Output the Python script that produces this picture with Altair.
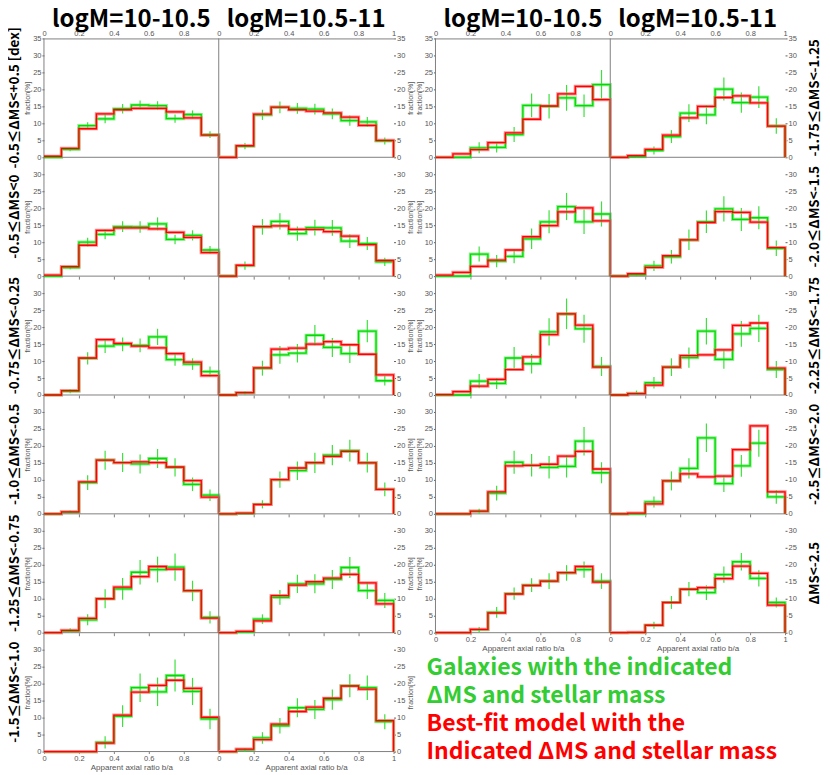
import altair as alt
import pandas as pd

# ---------------- data ----------------
bin_edges = [0.0, 0.1, 0.2, 0.3, 0.4, 0.5, 0.6, 0.7, 0.8, 0.9]
bin_centers = [0.05, 0.15, 0.25, 0.35, 0.45, 0.55, 0.65, 0.75, 0.85, 0.95]

col_titles = ["logM=10-10.5", "logM=10.5-11"]
left_row_labels = ["-0.5≤ΔMS<+0.5 [dex]", "-0.5≤ΔMS<0", "-0.75≤ΔMS<-0.25",
                   "-1.0≤ΔMS<-0.5", "-1.25≤ΔMS<-0.75", "-1.5≤ΔMS<-1.0"]
right_row_labels = ["-1.75≤ΔMS<-1.25", "-2.0≤ΔMS<-1.5", "-2.25≤ΔMS<-1.75",
                    "-2.5≤ΔMS<-2.0", "ΔMS<-2.5"]

# left block, logM=10-10.5
left_a_obs = [
    [0, 2.3, 9.3, 11.3, 14.3, 15.4, 15.2, 11.4, 12.6, 6.7],
    [0, 2.5, 10.0, 12.3, 14.6, 14.5, 15.4, 10.8, 12.0, 7.7],
    [0, 1.1, 10.8, 14.4, 14.9, 14.6, 17.1, 10.4, 9.1, 6.9],
    [0, 0.5, 9.2, 15.8, 15.1, 14.7, 16.3, 13.7, 8.7, 5.5],
    [0, 0.5, 3.8, 10.0, 12.9, 17.8, 18.6, 19.3, 12.3, 4.5],
    [0, 0, 0, 2.7, 10.4, 18.8, 17.6, 22.4, 17.7, 9.6],
]
left_a_err = [
    [0, 0.5, 1.0, 1.3, 1.4, 1.3, 1.3, 1.2, 1.2, 1.0],
    [0, 0.5, 1.3, 1.4, 1.6, 1.7, 1.9, 1.4, 1.5, 1.2],
    [0, 0.6, 1.8, 2.0, 2.0, 2.0, 2.4, 1.8, 1.7, 1.5],
    [0, 0.5, 2.2, 2.8, 2.8, 2.8, 2.8, 2.7, 2.0, 1.7],
    [0, 0.8, 1.6, 2.8, 3.2, 3.6, 3.8, 4.0, 3.0, 1.8],
    [0, 0, 0, 1.8, 3.2, 4.2, 4.2, 4.7, 4.0, 3.0],
]
left_a_fit = [
    [0.3, 2.6, 8.4, 12.8, 14.0, 14.4, 14.4, 13.4, 11.6, 6.5],
    [0.3, 2.8, 9.1, 13.5, 14.2, 14.2, 13.9, 12.9, 11.4, 6.9],
    [0, 1.3, 10.9, 16.3, 15.2, 14.4, 13.9, 12.2, 9.7, 5.7],
    [0, 0.6, 9.4, 15.8, 15.1, 15.3, 15.1, 13.8, 9.8, 4.9],
    [0, 0.7, 4.2, 10.0, 13.4, 16.5, 19.5, 18.7, 12.4, 4.3],
    [0, 0, 0, 2.5, 10.7, 17.5, 19.5, 21.0, 18.6, 10.1],
]
# left block, logM=10.5-11
left_b_obs = [
    [0, 3.3, 12.5, 14.7, 14.4, 14.2, 12.8, 10.8, 10.4, 4.8],
    [0, 3.1, 14.5, 16.1, 12.5, 14.3, 14.2, 10.3, 9.6, 4.2],
    [0, 0.6, 7.9, 11.8, 12.3, 17.6, 14.0, 12.2, 18.8, 4.2],
    [0, 0.1, 2.8, 10.1, 12.7, 15.0, 17.3, 18.6, 15.1, 7.2],
    [0, 0.2, 4.0, 10.4, 14.4, 14.4, 15.7, 19.2, 12.4, 9.5],
    [0, 0.5, 4.0, 7.6, 12.9, 12.4, 15.3, 19.4, 18.8, 8.8],
]
left_b_err = [
    [0, 0.9, 1.5, 1.7, 1.6, 1.6, 1.6, 1.5, 1.5, 1.0],
    [0, 1.2, 2.3, 2.4, 2.1, 2.3, 2.3, 2.0, 1.9, 1.2],
    [0, 0.5, 2.2, 2.6, 2.7, 3.0, 2.8, 2.8, 3.3, 1.4],
    [0, 0.2, 1.2, 2.4, 2.7, 3.0, 3.0, 3.2, 2.9, 2.0],
    [0, 0.3, 1.4, 2.2, 2.7, 2.8, 2.8, 3.1, 2.5, 2.2],
    [0, 0.5, 1.7, 2.3, 2.8, 2.8, 3.0, 3.4, 3.6, 2.2],
]
left_b_fit = [
    [0, 3.4, 12.7, 14.8, 14.0, 13.6, 13.1, 11.8, 9.4, 5.0],
    [0, 3.2, 14.6, 14.8, 13.8, 13.8, 13.1, 11.8, 9.3, 4.6],
    [0, 0.7, 8.0, 13.5, 13.8, 15.0, 15.7, 14.8, 12.0, 5.9],
    [0, 0.2, 2.75, 10.1, 13.5, 15.1, 16.9, 18.4, 15.0, 7.2],
    [0, 0.4, 3.5, 10.9, 14.0, 15.0, 16.1, 17.2, 14.7, 8.5],
    [0, 0.7, 3.5, 8.1, 11.8, 13.1, 15.7, 19.3, 18.4, 9.1],
]
# right block, logM=10-10.5
right_a_obs = [
    [0, 0, 2.8, 2.9, 6.7, 15.3, 15.0, 17.5, 15.2, 21.4],
    [0, 0, 6.5, 4.4, 5.8, 11.0, 16.0, 20.5, 16.0, 18.3],
    [0, 0, 4.1, 3.4, 10.9, 9.2, 18.6, 23.9, 19.5, 8.4],
    [0, 0, 0.7, 6.1, 15.2, 14.3, 13.7, 14.0, 21.4, 12.1],
    [0, 0, 0.9, 6.0, 11.5, 14.0, 15.2, 17.6, 18.6, 15.2],
]
right_a_err = [
    [0, 0, 1.6, 1.5, 2.2, 3.5, 3.6, 3.8, 3.3, 4.3],
    [0, 0, 2.2, 1.8, 2.0, 3.0, 3.4, 4.0, 3.6, 3.7],
    [0, 0, 2.1, 1.6, 3.2, 2.9, 4.0, 4.5, 4.1, 2.8],
    [0, 0, 0.8, 2.2, 3.4, 3.3, 3.3, 3.3, 4.2, 3.1],
    [0, 0, 0.8, 1.6, 1.8, 2.0, 2.3, 2.3, 2.4, 2.3],
]
right_a_fit = [
    [0, 1.0, 2.25, 4.3, 7.2, 11.2, 15.1, 18.7, 20.9, 17.0],
    [0.3, 1.1, 2.9, 4.7, 7.7, 11.6, 14.9, 18.9, 20.1, 16.3],
    [0.1, 1.0, 2.6, 4.6, 7.5, 11.2, 17.8, 23.9, 20.6, 8.2],
    [0, 0, 0.8, 6.5, 14.1, 14.3, 14.6, 17.0, 18.4, 13.2],
    [0, 0, 1.0, 5.8, 11.4, 13.9, 15.2, 17.7, 19.5, 14.9],
]
# right block, logM=10.5-11
right_b_obs = [
    [0, 0.2, 2.0, 6.1, 13.0, 12.5, 20.1, 16.1, 17.7, 9.2],
    [0, 0.4, 3.0, 5.7, 10.7, 16.0, 19.8, 16.7, 17.2, 8.2],
    [0, 0.5, 3.6, 8.2, 11.0, 18.8, 10.5, 18.0, 19.6, 7.5],
    [0, 0, 3.5, 9.7, 13.4, 22.4, 8.9, 14.1, 20.8, 5.0],
    [0, 0, 2.2, 8.9, 12.8, 11.8, 17.1, 20.9, 16.0, 8.9],
]
right_b_err = [
    [0, 0.6, 1.2, 1.9, 2.6, 2.8, 3.4, 3.0, 3.2, 2.3],
    [0, 0.5, 1.5, 2.0, 3.0, 3.3, 3.7, 3.4, 3.4, 2.3],
    [0, 0.8, 1.7, 2.6, 3.0, 3.9, 2.8, 3.8, 4.0, 2.5],
    [0, 0, 1.6, 2.8, 3.0, 4.2, 2.5, 3.2, 4.0, 2.0],
    [0, 0, 1.0, 1.9, 2.1, 2.2, 2.4, 2.6, 2.4, 1.5],
]
right_b_fit = [
    [0, 0.5, 2.35, 6.5, 11.6, 15.0, 17.6, 18.1, 16.0, 9.2],
    [0, 0.7, 2.6, 6.0, 10.7, 15.8, 19.0, 18.8, 15.9, 8.4],
    [0, 0.4, 2.9, 8.2, 11.6, 11.8, 13.3, 20.5, 21.2, 7.9],
    [0, 0.2, 2.95, 9.7, 11.8, 10.9, 11.1, 18.9, 25.9, 6.5],
    [0, 0.1, 2.2, 8.9, 12.8, 13.3, 15.9, 19.6, 17.5, 8.1],
]

legend_green = "Galaxies with the indicated\nΔMS and stellar mass"
legend_red = "Best-fit model with the\nIndicated ΔMS and stellar mass"

# ---------------- styling ----------------
CJK = "Noto Sans CJK JP"
AXF = "Liberation Sans"
GRAY = "#808080"
PW, PH = 175, 119

xscale = alt.Scale(domain=[0, 1], nice=False, zero=False)
yscale = alt.Scale(domain=[0, 35], nice=False)
LAB = "datum.value == 0 ? '0' : datum.value == 1 ? '1' : format(datum.value, '.1f')"


def x_axis(row, nrows, is_right):
    vals = [0, 0.2, 0.4, 0.6, 0.8] + ([1] if is_right else [])
    common = dict(labelFont=AXF, labelFontSize=7.5, labelColor="#555555",
                  labelFlush=False, labelOverlap=False, labelBound=False,
                  grid=False)
    if row == 0:
        return alt.Axis(orient="top", values=vals, labelExpr=LAB, title=None,
                        domain=True, domainColor=GRAY, ticks=False,
                        labelPadding=1, **common)
    if row == nrows - 1:
        return alt.Axis(orient="bottom", values=vals, labelExpr=LAB,
                        title="Apparent axial ratio b/a", titleFont=AXF,
                        titleFontSize=8, titleFontWeight="normal",
                        titleColor="#555555", titlePadding=1, domain=False,
                        tickSize=2, tickColor=GRAY, labelPadding=1, **common)
    return alt.Axis(orient="bottom", values=[0.2, 0.4, 0.6, 0.8], labels=False,
                    title=None, domain=False, tickSize=3, tickColor=GRAY,
                    grid=False)


def y_axis(row, side, with_title=True):
    vals = list(range(0, 36, 5)) if row == 0 else list(range(0, 31, 5))
    extra = dict(titleAngle=270, titleBaseline="top") if side == "right" else {}
    return alt.Axis(orient=side, values=vals,
                    title="fraction[%]" if with_title else None, domain=False,
                    tickSize=2, tickColor="#606060", labelPadding=1,
                    titlePadding=2, labelFont=AXF, labelFontSize=7.5,
                    labelColor="#555555", labelOverlap=False, labelBound=False,
                    labelFlush=False, titleFont=AXF, titleFontSize=7,
                    titleFontWeight="normal", titleColor="#555555",
                    grid=False, **extra)


def panel(obs, err, fit, row, nrows, side, col_title=None, row_title=None,
          row_side="left", y_title=True):
    xa = x_axis(row, nrows, side == "right")
    ya = y_axis(row, side, y_title)
    obs_df = pd.DataFrame({"x": bin_edges + [1.0], "y": list(obs) + [0.0]})
    fit_df = pd.DataFrame({"x": bin_edges + [1.0], "y": list(fit) + [0.0]})
    err_df = pd.DataFrame({
        "x": bin_centers,
        "y": [max(o - e, 0) for o, e in zip(obs, err)],
        "hi": [o + e for o, e in zip(obs, err)],
    })
    X = alt.X("x:Q", scale=xscale, axis=xa)
    Y = alt.Y("y:Q", scale=yscale, axis=ya)

    def step(df, color, w):
        return alt.Chart(df).mark_line(interpolate="step-after", color=color,
                                       strokeWidth=w).encode(x=X, y=Y)

    vrule = alt.Chart(pd.DataFrame({"x": [0.0]})).mark_rule(
        color=GRAY, strokeWidth=1).encode(x=X)
    hrule = alt.Chart(pd.DataFrame({"y": [0.0]})).mark_rule(
        color=GRAY, strokeWidth=1).encode(y=Y)
    errs = alt.Chart(err_df).mark_rule(color="#3ee03e", strokeWidth=1.2).encode(
        x=X, y=Y, y2="hi:Q"
    )
    layers = [
        step(obs_df, "#8ef08e", 3.2),
        step(fit_df, "#ff8f8f", 3.2),
        vrule, hrule,
        errs,
        step(obs_df, "#00dc00", 1.3),
        step(fit_df, "#ff0000", 1.3),
    ]
    if col_title:
        layers.append(
            alt.Chart(pd.DataFrame({"t": [col_title]})).mark_text(
                font=CJK, fontSize=24, fontWeight="bold", align="center",
                baseline="top", color="black"
            ).encode(x=alt.value(PW / 2), y=alt.value(-30), text="t:N")
        )
    ch = alt.layer(*layers).properties(width=PW, height=PH)
    if row_title:
        if row_side == "left":
            tp = alt.TitleParams(row_title, orient="left", anchor="middle",
                                 font=CJK, fontSize=13.5, fontWeight="bold",
                                 color="black", offset=2)
        else:
            tp = alt.TitleParams(row_title, orient="right", anchor="middle",
                                 angle=270, baseline="top", font=CJK,
                                 fontSize=13.5, fontWeight="bold",
                                 color="black", offset=-2)
        ch = ch.properties(title=tp)
    return ch


def spacer():
    return alt.Chart(pd.DataFrame({"v": [0]})).mark_point(opacity=0).encode(
        x=alt.X("v:Q", axis=None), y=alt.Y("v:Q", axis=None)
    ).properties(width=42, height=PH)


legend_chart = alt.layer(
    alt.Chart(pd.DataFrame({"t": [legend_green]})).mark_text(
        font=CJK, fontSize=23, fontWeight="bold", align="left",
        baseline="alphabetic", color="#33cc33", lineBreak="\n", lineHeight=28
    ).encode(x=alt.value(-9), y=alt.value(42), text="t:N"),
    alt.Chart(pd.DataFrame({"t": [legend_red]})).mark_text(
        font=CJK, fontSize=23, fontWeight="bold", align="left",
        baseline="alphabetic", color="#ff0000", lineBreak="\n", lineHeight=28
    ).encode(x=alt.value(-9), y=alt.value(98), text="t:N"),
).properties(width=PW, height=PH)

cells = []
NL, NR = 6, 5
for r in range(NL):
    cells.append(panel(left_a_obs[r], left_a_err[r], left_a_fit[r], r, NL, "left",
                       col_title=col_titles[0] if r == 0 else None,
                       row_title=left_row_labels[r], row_side="left"))
    cells.append(panel(left_b_obs[r], left_b_err[r], left_b_fit[r], r, NL, "right",
                       col_title=col_titles[1] if r == 0 else None))
    cells.append(spacer())
    if r < NR:
        cells.append(panel(right_a_obs[r], right_a_err[r], right_a_fit[r], r, NR,
                           "left", col_title=col_titles[0] if r == 0 else None))
        cells.append(panel(right_b_obs[r], right_b_err[r], right_b_fit[r], r, NR,
                           "right", col_title=col_titles[1] if r == 0 else None,
                           row_title=right_row_labels[r], row_side="right",
                           y_title=False))
    else:
        cells.append(legend_chart)

chart = alt.concat(*cells, columns=5, spacing=0, bounds="flush", align="each").properties(
    padding=0
).configure_view(stroke=None).configure_axis(grid=False)

chart.save("out.html", embed_options={"renderer": "svg", "actions": False})
